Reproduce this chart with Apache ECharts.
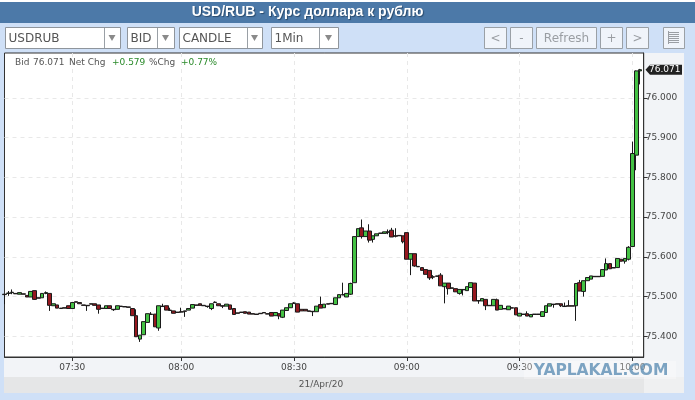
<!DOCTYPE html>
<html><head><meta charset="utf-8">
<style>html,body{margin:0;padding:0;background:#cfe0f7}#c{width:695px;height:400px}</style>
<script src="https://cdn.jsdelivr.net/npm/echarts@6/dist/echarts.min.js"></script>
</head><body><div id="c"></div>
<script>
const title = 'USD/RUB - Курс доллара к рублю';
const dateLabel = '21/Apr/20';
const lastPrice = 76.071;
const priceTicks = [75.4,75.5,75.6,75.7,75.8,75.9,76.0];
const timeTicks = ['07:30','08:00','08:30','09:00','09:30','10:00'];
const skippedMinute = '07:45';
// [open, close, low, high]
const candles = [
[75.506,75.505,75.481,75.506],[75.508,75.509,75.502,75.514],[75.510,75.511,75.506,75.518],[75.508,75.507,75.507,75.508],
[75.506,75.510,75.506,75.510],[75.507,75.506,75.506,75.507],[75.503,75.499,75.499,75.503],[75.499,75.513,75.499,75.513],
[75.515,75.493,75.492,75.515],[75.497,75.496,75.496,75.497],[75.497,75.508,75.497,75.508],[75.508,75.510,75.506,75.513],
[75.508,75.478,75.464,75.508],[75.477,75.482,75.477,75.482],[75.479,75.471,75.471,75.479],[75.471,75.470,75.470,75.471],
[75.472,75.471,75.471,75.472],[75.477,75.470,75.470,75.477],[75.470,75.485,75.470,75.485],[75.487,75.486,75.486,75.487],
[75.485,75.482,75.482,75.485],[75.479,75.478,75.478,75.479],[75.478,75.477,75.464,75.478],[75.482,75.481,75.481,75.482],
[75.482,75.478,75.478,75.482],[75.479,75.468,75.457,75.479],[75.471,75.470,75.470,75.471],[75.470,75.477,75.470,75.477],
[75.477,75.470,75.470,75.477],[75.468,75.467,75.464,75.468],[75.468,75.477,75.468,75.477],[75.476,75.475,75.475,75.476],
[75.475,75.474,75.474,75.475],[75.474,75.473,75.473,75.474],[75.470,75.452,75.452,75.470],[75.452,75.399,75.399,75.468],
[75.393,75.403,75.386,75.403],[75.404,75.437,75.404,75.437],[75.435,75.457,75.435,75.457],[75.456,75.455,75.455,75.461],
[75.456,75.424,75.424,75.456],[75.421,75.477,75.414,75.477],[75.476,75.475,75.475,75.482],[75.477,75.466,75.466,75.477],
[75.466,75.465,75.465,75.472],[75.464,75.458,75.458,75.464],[75.461,75.460,75.460,75.461],[75.462,75.461,75.460,75.472],
[75.464,75.463,75.449,75.464],[75.466,75.470,75.466,75.470],[75.471,75.480,75.471,75.480],[75.479,75.478,75.478,75.479],
[75.482,75.478,75.478,75.482],[75.478,75.477,75.477,75.478],[75.476,75.475,75.472,75.476],[75.470,75.482,75.466,75.482],
[75.486,75.485,75.485,75.488],[75.482,75.477,75.477,75.482],[75.477,75.476,75.471,75.477],[75.476,75.481,75.476,75.481],
[75.479,75.468,75.468,75.479],[75.470,75.455,75.455,75.470],[75.459,75.458,75.458,75.459],[75.461,75.460,75.460,75.461],
[75.462,75.458,75.458,75.462],[75.461,75.456,75.456,75.461],[75.457,75.456,75.456,75.457],[75.456,75.455,75.455,75.456],
[75.458,75.457,75.457,75.458],[75.460,75.459,75.459,75.460],[75.457,75.456,75.456,75.457],[75.460,75.451,75.451,75.460],
[75.452,75.460,75.452,75.460],[75.457,75.451,75.443,75.457],[75.448,75.466,75.446,75.466],[75.465,75.472,75.465,75.472],
[75.472,75.482,75.472,75.482],[75.484,75.483,75.482,75.486],[75.482,75.461,75.461,75.482],[75.468,75.464,75.464,75.468],
[75.468,75.464,75.464,75.468],[75.464,75.463,75.463,75.464],[75.463,75.462,75.451,75.463],[75.462,75.476,75.462,75.476],
[75.480,75.471,75.471,75.500],[75.472,75.481,75.472,75.481],[75.482,75.481,75.481,75.482],[75.483,75.482,75.482,75.483],
[75.480,75.497,75.480,75.497],[75.497,75.505,75.497,75.505],[75.505,75.504,75.504,75.535],[75.499,75.508,75.499,75.508],
[75.506,75.533,75.504,75.535],[75.535,75.651,75.535,75.651],[75.651,75.671,75.651,75.671],[75.673,75.651,75.646,75.694],
[75.651,75.665,75.651,75.665],[75.665,75.642,75.636,75.682],[75.644,75.653,75.636,75.653],[75.653,75.658,75.653,75.658],
[75.660,75.659,75.659,75.660],[75.659,75.663,75.659,75.663],[75.663,75.662,75.657,75.669],[75.667,75.650,75.650,75.673],
[75.653,75.652,75.649,75.672],[75.654,75.653,75.653,75.654],[75.653,75.638,75.634,75.653],[75.661,75.594,75.594,75.661],
[75.594,75.608,75.554,75.608],[75.608,75.577,75.575,75.608],[75.576,75.575,75.575,75.576],[75.573,75.566,75.566,75.573],
[75.568,75.556,75.556,75.568],[75.566,75.547,75.542,75.566],[75.550,75.549,75.544,75.554],[75.552,75.551,75.551,75.552],
[75.554,75.527,75.527,75.559],[75.525,75.534,75.483,75.534],[75.534,75.520,75.505,75.534],[75.522,75.521,75.521,75.522],
[75.520,75.512,75.512,75.520],[75.508,75.518,75.505,75.518],[75.518,75.517,75.503,75.518],[75.515,75.525,75.515,75.525],
[75.523,75.535,75.523,75.535],[75.534,75.489,75.489,75.534],[75.490,75.489,75.482,75.490],[75.489,75.495,75.489,75.495],
[75.493,75.477,75.466,75.493],[75.478,75.477,75.477,75.478],[75.477,75.493,75.477,75.493],[75.492,75.466,75.466,75.495],
[75.468,75.478,75.468,75.478],[75.470,75.469,75.469,75.470],[75.467,75.476,75.467,75.476],[75.472,75.471,75.471,75.472],
[75.472,75.454,75.454,75.472],[75.451,75.458,75.451,75.458],[75.456,75.455,75.455,75.456],[75.457,75.451,75.451,75.463],
[75.449,75.455,75.449,75.455],[75.456,75.455,75.455,75.456],[75.456,75.455,75.455,75.456],[75.450,75.462,75.450,75.462],
[75.460,75.477,75.460,75.477],[75.476,75.482,75.476,75.482],[75.481,75.480,75.472,75.481],[75.482,75.481,75.481,75.482],
[75.482,75.477,75.474,75.482],[75.476,75.475,75.475,75.485],[75.477,75.476,75.476,75.491],[75.477,75.476,75.476,75.477],
[75.477,75.533,75.439,75.533],[75.535,75.514,75.514,75.542],[75.513,75.540,75.500,75.540],[75.540,75.548,75.540,75.548],
[75.544,75.552,75.544,75.552],[75.551,75.550,75.550,75.551],[75.551,75.550,75.550,75.551],[75.551,75.568,75.551,75.568],
[75.567,75.583,75.567,75.596],[75.583,75.570,75.570,75.583],[75.573,75.572,75.572,75.573],[75.573,75.596,75.573,75.596],
[75.594,75.589,75.589,75.594],[75.589,75.596,75.583,75.596],[75.594,75.624,75.591,75.627],[75.626,75.860,75.626,75.890],
[75.856,76.068,75.818,76.069],[76.068,76.071,76.034,76.073]
];
// one candle per minute from 07:12; the feed has no candle for one minute
const times = [];
for (let m = 7*60+12; times.length < candles.length + 1; m++) {
  const t = String(Math.floor(m/60)).padStart(2,'0') + ':' + String(m%60).padStart(2,'0');
  if (t !== skippedMinute) times.push(t);
}

const FONT = '"DejaVu Sans"';
const L = 4.5, T = 53, W = 639.2, H = 304;
const yMin = 75.348, yMax = 76.113;
const isTick = (i, v) => timeTicks.includes(v);

function rect(x,y,w,h,fill,stroke,z){return {type:'rect',silent:true,z:z??-10,shape:{x,y,width:w,height:h},style:{fill,stroke:stroke||null,lineWidth:stroke?1:0}};}
function txt(x,y,t,o={}){return {type:'text',silent:true,z:o.z??-2,x,y,style:{text:t,fill:o.fill||'#555',font:o.font||('12px '+FONT),textAlign:o.align||'left',textVerticalAlign:'middle',textBaseline:'middle',textShadowColor:o.shadow,textShadowBlur:o.shadow?1:0,textShadowOffsetX:o.shadow?1:0,textShadowOffsetY:o.shadow?1:0}};}
function selectBox(x0,x1,div,label){
  const mid=(div+x1)/2;
  return [rect(x0+.5,27.5,x1-x0,21,'#fff','#8f959c',-4),
    {type:'line',silent:true,z:-3,shape:{x1:div+.5,y1:28,x2:div+.5,y2:48},style:{stroke:'#9aa0a6',lineWidth:1}},
    {type:'polygon',silent:true,z:-3,shape:{points:[[mid-3.5,35],[mid+3.5,35],[mid,41]]},style:{fill:'#8a8a8a'}},
    txt(x0+3.5,38.5,label)];
}
function button(x0,x1,label){
  return [rect(x0+.5,27.5,x1-x0,21,'#f0f4fa','#9aa0a6',-4),txt((x0+x1)/2+.5,38.5,label,{fill:'#9a9ea3',align:'center'})];
}
const iconLines=[];
for(let i=0;i<6;i++){iconLines.push({type:'line',silent:true,z:-3,shape:{x1:669,y1:32.5+i*2,x2:679,y2:32.5+i*2},style:{stroke:'#9a9ea3',lineWidth:1}});}
iconLines.push({type:'line',silent:true,z:-3,shape:{x1:668.5,y1:31,x2:668.5,y2:44},style:{stroke:'#9a9ea3',lineWidth:1}});

const elements=[
  rect(0,0,695,2,'#ffffff'),
  rect(0,2,695,21,'#4c79a8'),
  txt(307.5,12.5,title,{fill:'#fff',font:'bold 14px "Liberation Sans"',align:'center',shadow:'#2a4a6c'}),
  rect(4,53,680,324,'#f2f4f7'),
  rect(4,377,640,16,'#e5e6e7'),
  rect(644,377,40,16,'#eff0f1'),
  txt(321,385,dateLabel,{font:'9px '+FONT,align:'center'}),
  ...selectBox(5,120,104,'USDRUB'),
  ...selectBox(127,174,157,'BID'),
  ...selectBox(179,262,247,'CANDLE'),
  ...selectBox(271,338,319,'1Min'),
  ...button(484,506,'<'),...button(510,532,'-'),...button(536,596,'Refresh'),...button(600,622,'+'),...button(626,648,'>'),
  rect(663.5,27.5,21,21,'#f0f4fa','#9aa0a6',-4),...iconLines,
  txt(15,63,'Bid',{font:'9px '+FONT,z:5}),txt(33,63,lastPrice.toFixed(3),{font:'9px '+FONT,z:5}),txt(69,63,'Net Chg',{font:'9px '+FONT,z:5}),
  txt(112,63,'+0.579',{font:'9px '+FONT,fill:'#2a8a2a',z:5}),txt(149,63,'%Chg',{font:'9px '+FONT,z:5}),txt(181,63,'+0.77%',{font:'9px '+FONT,fill:'#2a8a2a',z:5}),
  {type:'rect',silent:true,z:50,shape:{x:524,y:361,width:152,height:18},style:{fill:'rgba(255,255,255,0.3)'}},
  txt(601,370.5,'YAPLAKAL.COM',{font:'bold 15.5px "DejaVu Sans"',fill:'rgba(90,140,178,0.78)',align:'center',z:51})
];

const chart = echarts.init(document.getElementById('c'), null, {renderer:'canvas'});
const option = {
  animation:false,
  backgroundColor:'#cfe0f7',
  grid:{left:L,top:T,width:W,height:H,show:true,backgroundColor:'#fff',borderColor:'#333',borderWidth:1},
  xAxis:{type:'category',data:times,boundaryGap:false,
    axisLine:{show:true,lineStyle:{color:'#333'}},
    axisTick:{show:true,interval:isTick,length:4,lineStyle:{color:'#333'}},
    axisLabel:{show:true,interval:isTick,color:'#444',fontFamily:FONT,fontSize:9,margin:6,hideOverlap:false},
    splitLine:{show:true,interval:isTick,lineStyle:{color:'#e8e8e8',type:[4,4]}}},
  yAxis:{type:'value',position:'right',min:yMin,max:yMax,scale:true,
    axisLine:{show:true,lineStyle:{color:'#333'}},
    axisTick:{show:true,length:4,customValues:priceTicks,lineStyle:{color:'#333'}},
    axisLabel:{show:true,customValues:priceTicks,color:'#444',fontFamily:FONT,fontSize:9,margin:2,formatter:v=>Number(v).toFixed(3)},
    splitLine:{show:true,lineStyle:{color:'#e8e8e8',type:[4,4]}}},
  series:[{type:'candlestick',data:candles,barWidth:4.2,clip:true,
    itemStyle:{color:'#44c244',color0:'#96181f',borderColor:'#1a1a1a',borderColor0:'#1a1a1a',borderColorDoji:'#1a1a1a',borderWidth:1}}],
  graphic:{elements}
};
chart.setOption(option);
const py = chart.convertToPixel({yAxisIndex:0}, lastPrice);
chart.setOption({graphic:{elements:[
  {id:'flag',type:'polygon',silent:true,z:20,shape:{points:[[645.5,py],[650,py-5],[682,py-5],[682,py+5],[650,py+5]]},style:{fill:'#222'}},
  {id:'flagText',type:'text',silent:true,z:21,x:649,y:py,style:{text:lastPrice.toFixed(3),fill:'#fff',font:'9px '+FONT,textVerticalAlign:'middle',textBaseline:'middle'}}
]}});
</script></body></html>
